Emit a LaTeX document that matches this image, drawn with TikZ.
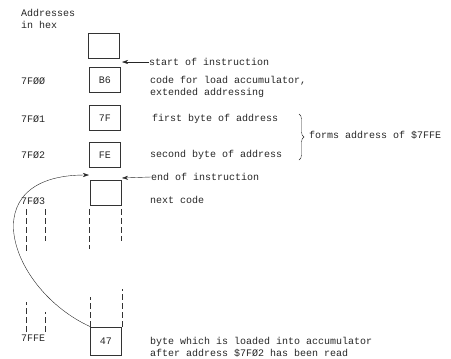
\documentclass[tikz,border=0pt]{standalone}
\usepackage{fontspec}
\setmonofont{Liberation Mono}
\usetikzlibrary{arrows.meta,positioning,decorations.pathreplacing}

\begin{document}
\begin{tikzpicture}[x=1pt, y=-1pt, >={Stealth[length=6pt,width=4pt]},
    every node/.style={font=\ttfamily\fontsize{10}{12}\selectfont, text=black!85, inner sep=0pt},
    cell/.style={draw=black!80, line width=0.9pt, minimum width=31pt, minimum height=25pt},
    addr/.style={anchor=west},
    note/.style={anchor=west, align=left},
    dots/.style={black!80, line width=0.8pt, dash pattern=on 6pt off 3pt}]
  \useasboundingbox (0,0) rectangle (451,359);
  % title
  \node[note] (title) at (21,19) {Addresses\\in hex};
  % memory cells
  \node[cell] (c0) at (104,46) {};
  \node[cell] (c1) at (105,80) {B6};
  \node[cell] (c2) at (105,118) {7F};
  \node[cell] (c3) at (105,155) {FE};
  \node[cell] (c4) at (105.5,193) {};
  \node[cell, minimum height=28pt] (c5) at (106,341) {47};
  % addresses
  \node[addr] (a1) at (21,81) {7FØØ};
  \node[addr] (a2) at (21,119) {7FØ1};
  \node[addr] (a3) at (21,155) {7FØ2};
  \node[addr] (a4) at (21,201) {7FØ3};
  \node[addr] (a5) at (21,338) {7FFE};
  % notes
  \node[note] (start) at (149,62) {start of instruction};
  \node[note] (load) at (150,87) {code for load accumulator,\\extended addressing};
  \node[note] (first) at (152,119) {first byte of address};
  \node[note] (second) at (150,155) {second byte of address};
  \node[note] (forms) at (309,135) {forms address of \$7FFE};
  \node[note] (endi) at (151,177) {end of instruction};
  \node[note] (next) at (150,200) {next code};
  \node[note] (byte) at (150,347) {byte which is loaded into accumulator\\after address \$7FØ2 has been read};
  \coordinate (p0) at (122,62);
  \coordinate (p1) at (122,178);
  \coordinate (p2) at (89,175);
  % arrows
  \draw[->, black!85] (start.west) -- (p0);
  \draw[->, black!85] (endi.west) -- (p1);
  \draw[->, black!85] (c5.north west) .. controls (10,290) and (-30,175) .. (p2);
  \draw[decorate, decoration={brace, amplitude=5pt}, black!85] (299,114) -- (299,160);
  % continuation marks
  \draw[dots] (c4.south west) ++(0,3) -- ++(0,40);
  \draw[dots] (c4.south east) ++(0,3) -- ++(0,32);
  \draw[dots] (c5.north west) -- ++(0,-30);
  \draw[dots] (c5.north east) -- ++(0,-38);
  \draw[dots] (26,209) -- (26,251);
  \draw[dots] (45,209) -- (45,241);
  \draw[dots] (26,332) -- (26,302);
  \draw[dots] (45,332) -- (45,312);
\end{tikzpicture}
\end{document}
